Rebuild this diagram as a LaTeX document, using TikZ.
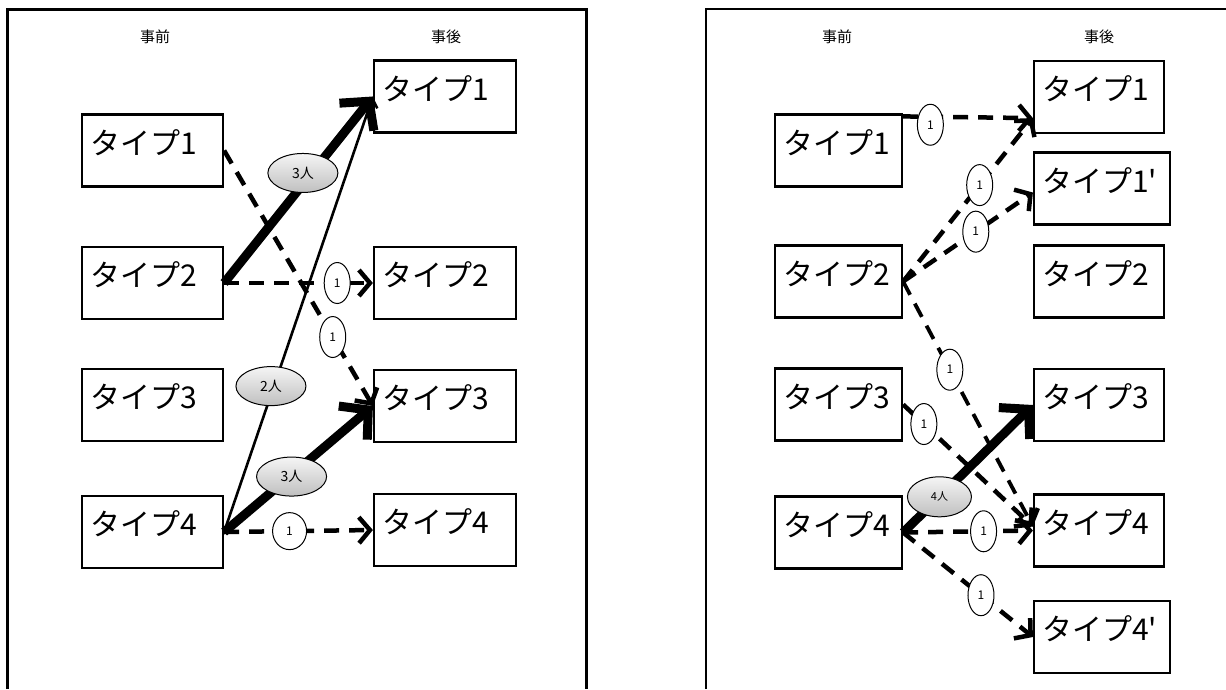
\documentclass[tikz,border=0pt]{standalone}
\usepackage{fontspec}
\newfontfamily\jp{Noto Sans CJK JP}
\usetikzlibrary{arrows.meta,shapes.geometric,calc}
\begin{document}
\begin{tikzpicture}[x=1pt,y=-1pt,
  every node/.style={font=\jp},
  box/.style={draw,solid,line width=2.2pt,rectangle,minimum height=72pt,inner sep=0pt},
  btxt/.style={font=\jp\fontsize{30}{30}\selectfont,inner sep=0pt},
  tb/.style 2 args={box,minimum width=#1,label={[btxt,anchor=base west,xshift=9pt,yshift=-41pt]north west:#2}},
  hdr/.style={font=\jp\fontsize{15}{15}\selectfont},
  one/.style={ellipse,draw,solid,line width=1pt,fill=white,minimum width=26pt,minimum height=41pt,inner sep=0pt,font=\jp\fontsize{12}{12}\selectfont},
  ppl/.style={ellipse,draw,solid,line width=1pt,top color=gray!8,bottom color=gray!50,minimum width=70pt,minimum height=39pt,inner sep=0pt,font=\jp\fontsize{14}{14}\selectfont},
  dsh/.style={line width=4.5pt,dash pattern=on 15pt off 10pt,-{Straight Barb[length=11pt,width=26pt,line width=4.5pt]}},
  fat/.style={line width=9pt,-{Straight Barb[length=20pt,width=44pt,line width=9pt]}},
  slim/.style={line width=2.6pt,-{Straight Barb[length=8pt,width=16pt,line width=2.6pt]}},
  frameL/.style={line width=3pt},
  frameR/.style={line width=2pt}
]
\useasboundingbox (0,0) rectangle (1226,689);
\fill[white] (0,0) rectangle (1226,689);
% ---------- left panel ----------
\draw[frameL] (7,689) -- (7,9) -- (586,9) -- (586,689);
\node[hdr] (ha) at (155,37) {事前};
\node[hdr] (hb) at (446,37) {事後};
\node[tb={141pt}{タイプ1}] (aL1) at (152.5,150.5) {};
\node[tb={141pt}{タイプ2}] (aL2) at (152.5,283) {};
\node[tb={141pt}{タイプ3}] (aL3) at (152.5,405) {};
\node[tb={141pt}{タイプ4}] (aL4) at (152.5,532) {};
\node[tb={142pt}{タイプ1}] (aR1) at (445,96.5) {};
\node[tb={142pt}{タイプ2}] (aR2) at (445,283) {};
\node[tb={142pt}{タイプ3}] (aR3) at (445,406) {};
\node[tb={142pt}{タイプ4}] (aR4) at (445,530) {};
\draw[dsh] (aL1.east) -- (aR3.west) node[one,pos=0.73]{1};
\draw[dsh] (aL2.east) -- (aR2.west) node[one,pos=0.76]{1};
\draw[slim] (aL4.east) -- (aR1.west) node[ppl,pos=0.335,xshift=-3pt]{2人};
\draw[fat] (aL2.east) -- (aR1.west) node[ppl,pos=0.59,xshift=-9pt]{3人};
\draw[fat] (aL4.east) -- (aR3.west) node[ppl,pos=0.44,xshift=2pt]{3人};
\draw[dsh] (aL4.east) -- (aR4.west) node[one,pos=0.44,minimum width=34pt,minimum height=37pt]{1};
% ---------- right panel ----------
\draw[frameR] (706,689) -- (706,9) -- (1226,9);
\node[hdr] (hc) at (837,37) {事前};
\node[hdr] (hd) at (1099,37) {事後};
\node[tb={127pt}{タイプ1}] (bL1) at (838.5,150.5) {};
\node[tb={127pt}{タイプ2}] (bL2) at (838.5,281.5) {};
\node[tb={127pt}{タイプ3}] (bL3) at (838.5,404.5) {};
\node[tb={127pt}{タイプ4}] (bL4) at (838.5,532.5) {};
\node[tb={130pt}{タイプ1}] (bR1) at (1099,97) {};
\node[tb={136pt}{タイプ1'}] (bR1p) at (1102,188.5) {};
\node[tb={130pt}{タイプ2}] (bR2) at (1099,281.5) {};
\node[tb={130pt}{タイプ3}] (bR3) at (1099,405) {};
\node[tb={130pt}{タイプ4}] (bR4) at (1099,530.5) {};
\node[tb={136pt}{タイプ4'}] (bR4p) at (1102,637) {};
\draw[dsh] ($(bL1.north east)+(0,3)$) -- ($(bR1.south west)+(0,-16)$) node[one,pos=0.21,yshift=-8pt]{1};
\draw[dsh] (bL2.east) -- ($(bR1.south west)+(0,-16)$) node[one,pos=0.59]{1};
\draw[dsh] (bL2.east) -- ($(bR1p.west)+(0,4)$) node[one,pos=0.56]{1};
\draw[dsh,line width=3.8pt] (bL2.east) -- ($(bR4.west)+(0,-4)$) node[one,pos=0.36]{1};
\draw[dsh] (bL3.east) -- ($(bR4.west)+(0,-4)$) node[one,pos=0.16]{1};
\draw[fat] (bL4.east) -- (bR3.west) node[ppl,pos=0.28,font=\jp\fontsize{11}{11}\selectfont,minimum width=64pt,minimum height=40pt]{4人};
\draw[dsh] (bL4.east) -- (bR4.west) node[one,pos=0.62]{1};
\draw[dsh] (bL4.east) -- (bR4p.west) node[one,pos=0.6]{1};
\end{tikzpicture}
\end{document}
